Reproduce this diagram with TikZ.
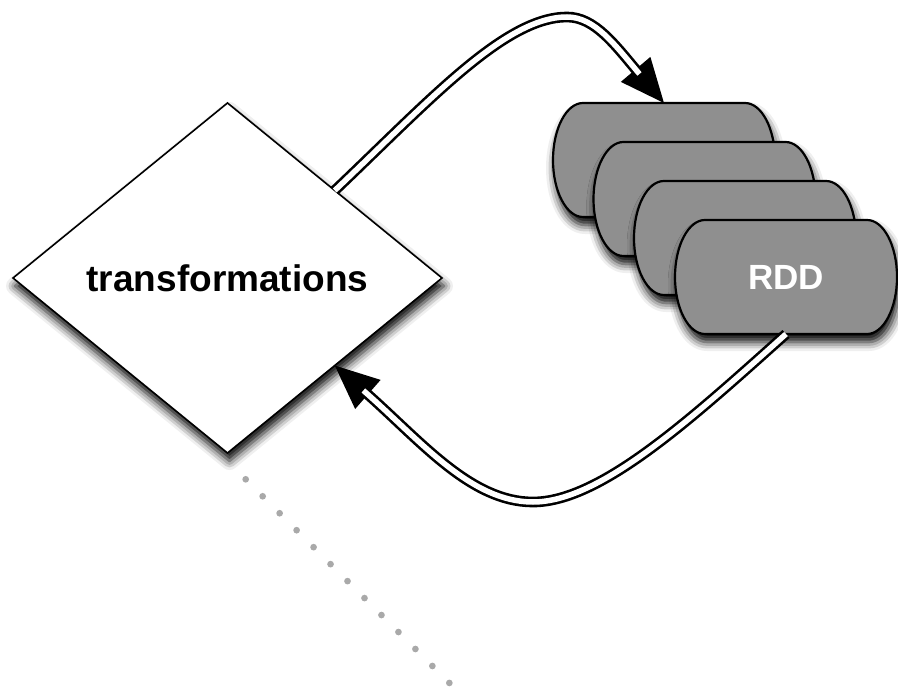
\documentclass[tikz,border=0pt]{standalone}
\usepackage{fontspec}
\setmainfont{Liberation Sans}
\usetikzlibrary{shapes.geometric,arrows.meta,shadows.blur}
\definecolor{rddgray}{HTML}{8F8F8F}
\definecolor{dotgray}{HTML}{A9A9A9}
\newcommand\rddbodypath[1]{%
  \draw[rddbody] ([xshift=30pt]#1.north west) -- ([xshift=-30pt]#1.north east)
    arc[start angle=90,end angle=-90,x radius=30pt,y radius=57pt]
    -- ([xshift=30pt]#1.south west)
    arc[start angle=270,end angle=90,x radius=30pt,y radius=57pt] -- cycle;}
\begin{document}
\begin{tikzpicture}[x=1pt,y=-1pt,
  decision/.style={diamond, draw=black, line width=1.6pt, fill=white,
    minimum width=429pt, minimum height=350pt, inner sep=0pt, outer sep=0pt,
    font=\fontsize{37}{40}\selectfont\bfseries,
    blur shadow={shadow xshift=2pt, shadow yshift=-8pt, shadow blur radius=9pt, shadow opacity=100}},
  rddanchor/.style={rectangle, minimum width=222pt, minimum height=114pt,
    inner sep=0pt, outer sep=0pt},
  rddlabel/.style={inner sep=0pt, text=white, font=\fontsize{35}{38}\selectfont\bfseries},
  rddbody/.style={draw=black, line width=2.2pt, fill=rddgray,
    blur shadow={shadow xshift=2pt, shadow yshift=-8pt, shadow blur radius=9pt, shadow opacity=100}},
  flow/.style={draw=black, line width=2.6pt, double=white, double distance=5.5pt},
  flowhead/.style={draw=black, line width=2.6pt, -{Triangle[length=44pt,width=38pt]}},
  dotline/.style={draw=dotgray, line width=6.7pt, line cap=round, dash pattern=on 0pt off 24pt}]
\useasboundingbox (0,0) rectangle (898,690);

% diamond
\node[decision] (d) at (227.5,278) {transformations};

% RDD stack
\node[rddanchor] (r1) at (664,160) {};
\rddbodypath{r1}
\node[rddanchor] (r2) at (704.5,199) {};
\rddbodypath{r2}
\node[rddanchor] (r3) at (745,238) {};
\rddbodypath{r3}
\node[rddanchor] (r4) at (786,277) {};
\rddbodypath{r4}
\node[rddlabel] (t4) at (r4) {RDD};

% upper arrow
\draw[flowhead] (d.north east) .. controls (430,100) and (505,17) .. (567,17)
  .. controls (595,17) and (615,45) .. (r1.north);
\draw[flow, shorten >=38pt] (d.north east) .. controls (430,100) and (505,17) .. (567,17)
  .. controls (595,17) and (615,45) .. (r1.north);

% lower arrow
\draw[flowhead] (r4.south) .. controls (690,420) and (600,502) .. (533,502)
  .. controls (470,502) and (420,440) .. (d.south east);
\draw[flow, shorten >=38pt] (r4.south) .. controls (690,420) and (600,502) .. (533,502)
  .. controls (470,502) and (420,440) .. (d.south east);

% dotted line
\coordinate (p0) at (245.7,479.3);
\coordinate (p1) at (450,683.6);
\draw[dotline] (p0) -- (p1);
\end{tikzpicture}
\end{document}
